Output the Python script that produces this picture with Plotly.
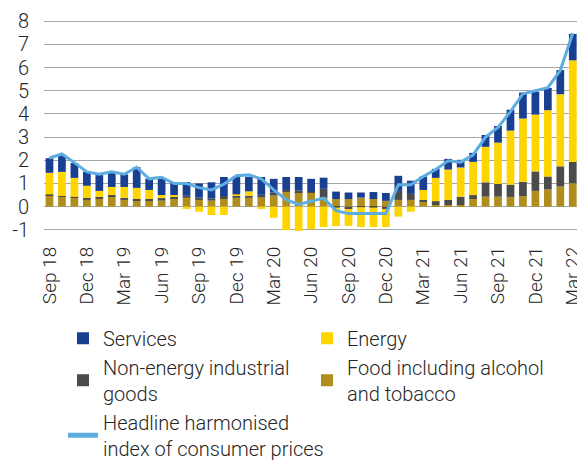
import plotly.graph_objects as go

months = ["Sep 18", "Oct 18", "Nov 18", "Dec 18", "Jan 19", "Feb 19", "Mar 19", "Apr 19", "May 19", "Jun 19",
          "Jul 19", "Aug 19", "Sep 19", "Oct 19", "Nov 19", "Dec 19", "Jan 20", "Feb 20", "Mar 20", "Apr 20",
          "May 20", "Jun 20", "Jul 20", "Aug 20", "Sep 20", "Oct 20", "Nov 20", "Dec 20", "Jan 21", "Feb 21",
          "Mar 21", "Apr 21", "May 21", "Jun 21", "Jul 21", "Aug 21", "Sep 21", "Oct 21", "Nov 21", "Dec 21",
          "Jan 22", "Feb 22", "Mar 22"]

food = [0.50, 0.42, 0.38, 0.29, 0.33, 0.43, 0.29, 0.25, 0.25, 0.26,
        0.36, 0.38, 0.29, 0.26, 0.33, 0.38, 0.38, 0.39, 0.48, 0.63,
        0.63, 0.61, 0.39, 0.33, 0.33, 0.39, 0.33, 0.25, 0.29, 0.29,
        0.20, 0.07, 0.07, 0.07, 0.33, 0.43, 0.43, 0.42, 0.46, 0.68,
        0.74, 0.87, 1.01]
neig = [0.03, 0.04, 0.04, 0.09, 0.09, 0.07, 0.09, 0.08, 0.08, 0.11,
        0.07, 0.09, 0.10, 0.10, 0.13, 0.10, 0.09, 0.12, 0.13, 0.09,
        0.06, 0.04, 0.38, -0.04, -0.10, -0.02, -0.04, -0.10, 0.39, 0.26,
        0.09, 0.17, 0.22, 0.36, 0.17, 0.62, 0.55, 0.53, 0.61, 0.84,
        0.56, 0.87, 0.92]
energy = [0.93, 1.04, 0.82, 0.52, 0.26, 0.35, 0.47, 0.48, 0.39, 0.13,
          0.07, -0.10, -0.22, -0.36, -0.36, 0.05, 0.19, -0.10, -0.48, -1.01,
          -1.23, -0.97, -0.88, -0.80, -0.73, -0.86, -0.84, -0.78, -0.43, -0.22,
          0.43, 1.00, 1.31, 1.26, 1.43, 1.53, 1.78, 2.33, 2.73, 2.45,
          2.86, 3.11, 4.38]
services = [0.63, 0.74, 0.64, 0.60, 0.69, 0.64, 0.54, 0.89, 0.48, 0.70,
            0.55, 0.59, 0.61, 0.69, 0.82, 0.77, 0.63, 0.77, 0.59, 0.56,
            0.59, 0.55, 0.48, 0.32, 0.28, 0.22, 0.30, 0.34, 0.65, 0.57,
            0.58, 0.39, 0.46, 0.33, 0.39, 0.51, 0.72, 0.90, 1.12, 0.99,
            0.96, 1.04, 1.14]
hicp = [2.1, 2.27, 1.9, 1.5, 1.4, 1.5, 1.4, 1.7, 1.2, 1.27,
        1.0, 1.0, 0.82, 0.72, 0.97, 1.33, 1.37, 1.2, 0.72, 0.3,
        0.1, 0.23, 0.37, -0.17, -0.3, -0.3, -0.3, -0.3, 0.94, 0.94,
        1.3, 1.6, 1.98, 1.92, 2.23, 3.0, 3.42, 4.1, 4.87, 5.0,
        5.13, 5.88, 7.48]

tick_labels = months[::3]
y_ticks = [-1, 0, 1, 2, 3, 4, 5, 6, 7, 8]
y_tick_text = ["-1", "0", "1", "2", "3", "4", "5", "6", "7", "8"]

C_SERV = "#193f93"
C_ENER = "#ffd500"
C_NEIG = "#4b4b4b"
C_FOOD = "#b08e1e"
C_LINE = "#5dade2"

fig = go.Figure()
fig.add_bar(x=months, y=food, name="Food including alcohol<br>and tobacco", marker_color=C_FOOD, legendrank=4)
fig.add_bar(x=months, y=neig, name="Non-energy industrial<br>goods", marker_color=C_NEIG, legendrank=3)
fig.add_bar(x=months, y=energy, name="Energy", marker_color=C_ENER, legendrank=2)
fig.add_bar(x=months, y=services, name="Services", marker_color=C_SERV, legendrank=1)
fig.add_scatter(x=months, y=hicp, mode="lines", name="Headline harmonised<br>index of consumer prices",
                line=dict(color=C_LINE, width=3), legendrank=5)

fig.update_traces(marker_line_width=0, selector=dict(type="bar"))

# page body has an 8px default margin, so the figure is sized to fill the rest of the window
fig.update_layout(
    width=577, height=453,
    barmode="relative", bargap=0.38,
    margin=dict(l=36, r=6, t=12, b=230, autoexpand=False),
    paper_bgcolor="white", plot_bgcolor="white",
    font=dict(family="Roboto", size=20, color="#262626", weight=300),
    showlegend=True,
    legend=dict(orientation="h", xref="paper", yref="paper",
                x=0.0355, y=-0.416, xanchor="left", yanchor="top",
                entrywidth=199, entrywidthmode="pixels",
                traceorder="normal", font=dict(size=20, weight=300), itemsizing="constant",
                tracegroupgap=0),
)
fig.update_xaxes(type="category", range=[-0.44, 42.5], tickmode="array",
                 tickvals=tick_labels, ticktext=tick_labels, tickangle=-90, automargin=False,
                 tickfont=dict(size=19), showgrid=False, showline=False, ticks="", ticklabelstandoff=11)
fig.update_yaxes(range=[-1.05, 8.05], tickmode="array", tickvals=y_ticks, ticktext=y_tick_text,
                 showgrid=True, automargin=False,
                 gridcolor="#a6a6a6", gridwidth=1.2, zeroline=True, zerolinecolor="#a6a6a6",
                 zerolinewidth=1.2, showline=False, ticks="", ticklabelstandoff=14)

fig.write_html("out.html")
